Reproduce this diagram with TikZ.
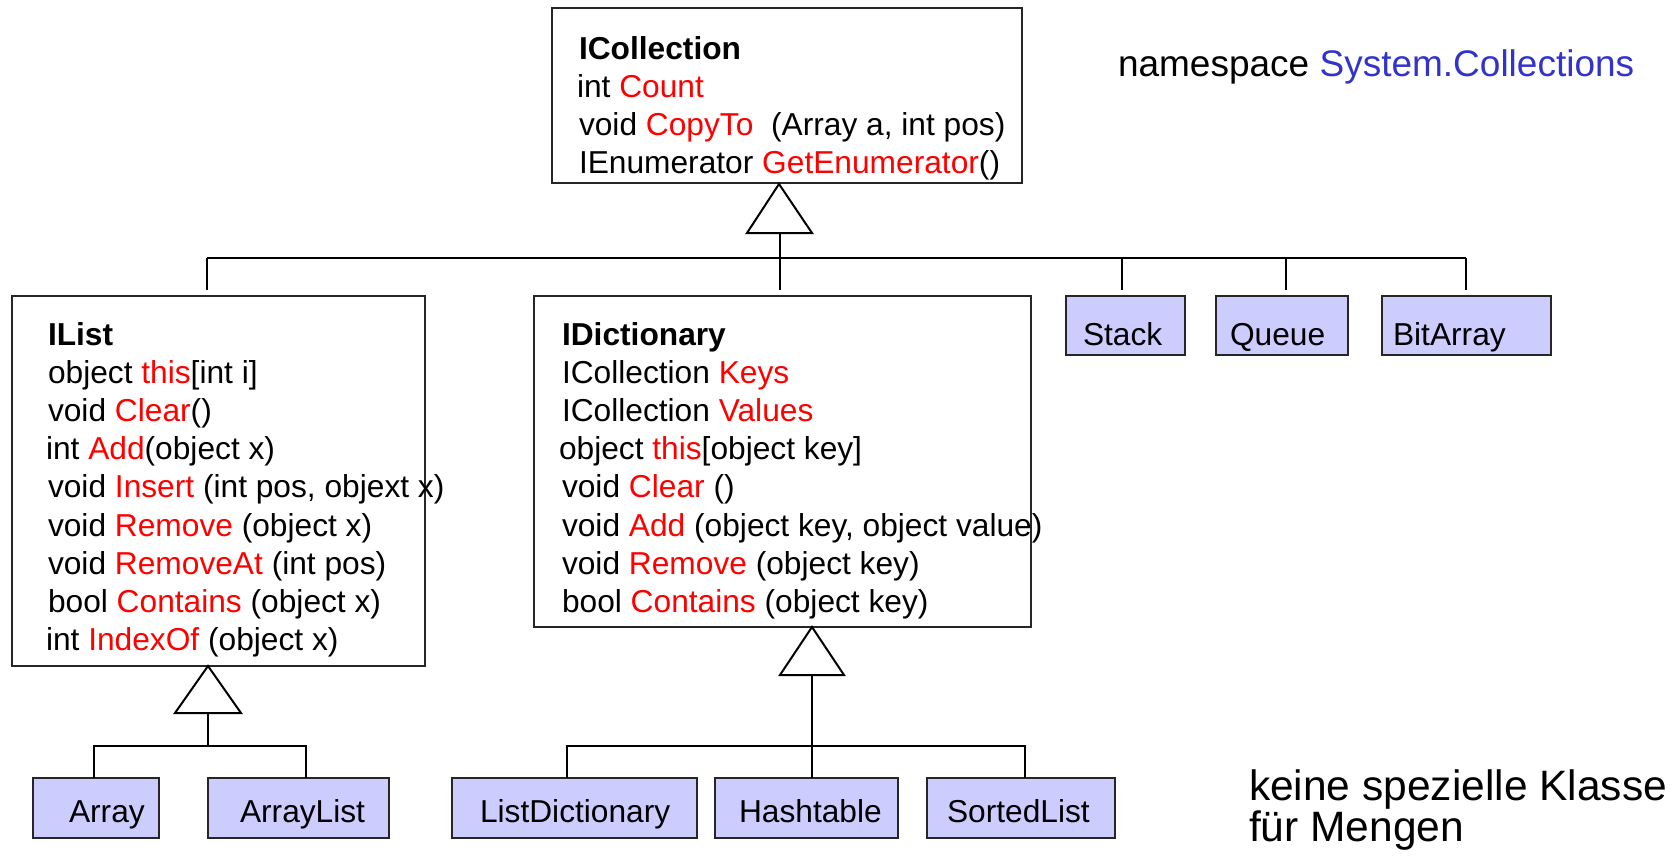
\documentclass[tikz,border=0pt]{standalone}
\usepackage{fontspec}
\setmainfont{Liberation Sans}
\definecolor{boxfill}{RGB}{204,204,255}
\definecolor{nsblue}{RGB}{51,51,204}
\definecolor{mred}{RGB}{255,0,0}
\newcommand{\redtxt}[1]{\textcolor{mred}{#1}}
\begin{document}
\begin{tikzpicture}[x=1pt,y=-1pt,
  bigbox/.style={draw=black!85, line width=1.3pt, fill=white, anchor=north west, inner sep=0pt, outer sep=0pt},
  smallbox/.style={draw=black!85, line width=1.3pt, fill=boxfill, anchor=north west, inner sep=0pt, outer sep=0pt, minimum height=60pt},
  txt/.style={anchor=base west, inner sep=0pt, outer sep=0pt, font=\fontsize{31.7}{38}\selectfont},
  title/.style={txt, font=\fontsize{31.7}{38}\selectfont\bfseries},
  conn/.style={line width=2pt},
  drop/.style={conn, shorten >=6pt},
  inh/.style={line width=2pt, fill=white, line join=miter}]
\fill[white] (0,0) rectangle (1677,857);
\useasboundingbox (0,0) rectangle (1677,857);

% big boxes
\node[bigbox, minimum width=470pt, minimum height=175pt] (icoll) at (552,8) {};
\node[bigbox, minimum width=413pt, minimum height=370pt] (ilist) at (12,296) {};
\node[bigbox, minimum width=497pt, minimum height=331pt] (idict) at (534,296) {};

% small class boxes
\node[smallbox, minimum width=119pt, minimum height=59pt] (stack) at (1066,296) {};
\node[smallbox, minimum width=132pt, minimum height=59pt] (queue) at (1216,296) {};
\node[smallbox, minimum width=169pt, minimum height=59pt] (bitarray) at (1382,296) {};
\node[smallbox, minimum width=126pt] (array) at (33,778) {};
\node[smallbox, minimum width=181pt] (arraylist) at (208,778) {};
\node[smallbox, minimum width=245pt] (listdict) at (452,778) {};
\node[smallbox, minimum width=183pt] (hashtable) at (715,778) {};
\node[smallbox, minimum width=188pt] (sortedlist) at (927,778) {};

% top inheritance
\coordinate (tipA) at (779,184);
\coordinate (baseA) at (780,233);
\coordinate (busL) at (207,258);
\coordinate (busR) at (1466,258);
\coordinate (jStack) at (1122,258);
\coordinate (jQueue) at (1286,258);
\draw[conn] (busL) -- (busR);
\draw[drop] (baseA) -- (baseA |- idict.north);
\draw[drop] (busL) -- (busL |- ilist.north);
\draw[drop] (jStack) -- (jStack |- stack.north);
\draw[drop] (jQueue) -- (jQueue |- queue.north);
\draw[drop] (busR) -- (busR |- bitarray.north);
\draw[inh] (tipA) -- ++(33,49) -- ++(-65,0) -- cycle;

% IList inheritance
\coordinate (tipB) at (208,666);
\coordinate (baseB) at (208,713);
\coordinate (bBl) at (94,746);
\coordinate (bBr) at (306,746);
\draw[conn] (baseB) -- (baseB |- bBl);
\draw[conn] (bBl |- array.north) -- (bBl) -- (bBr) -- (bBr |- arraylist.north);
\draw[inh] (tipB) -- ++(33,47) -- ++(-66,0) -- cycle;

% IDictionary inheritance
\coordinate (tipC) at (812,627);
\coordinate (baseC) at (812,675);
\coordinate (cL) at (567,746);
\coordinate (cR) at (1025,746);
\draw[conn] (baseC) -- (baseC |- hashtable.north);
\draw[conn] (cL |- listdict.north) -- (cL) -- (cR) -- (cR |- sortedlist.north);
\draw[inh] (tipC) -- ++(32,48) -- ++(-64,0) -- cycle;

% ICollection text
\node[title] (tIC0) at (579,59) {ICollection};
\node[txt] (tIC1) at (577,97) {int \redtxt{Count}};
\node[txt] (tIC2) at (579,135) {void \redtxt{CopyTo}\ \ (Array a, int pos)};
\node[txt] (tIC3) at (579,173) {IEnumerator \redtxt{GetEnumerator}()};

% IList text
\node[title] (tIL0) at (48,345) {IList};
\node[txt] (tIL1) at (48,383) {object \redtxt{this}[int i]};
\node[txt] (tIL2) at (48,421) {void \redtxt{Clear}()};
\node[txt] (tIL3) at (46,459) {int \redtxt{Add}(object x)};
\node[txt] (tIL4) at (48,497) {void \redtxt{Insert} (int pos, objext x)};
\node[txt] (tIL5) at (48,536) {void \redtxt{Remove} (object x)};
\node[txt] (tIL6) at (48,574) {void \redtxt{RemoveAt} (int pos)};
\node[txt] (tIL7) at (48,612) {bool \redtxt{Contains} (object x)};
\node[txt] (tIL8) at (46,650) {int \redtxt{IndexOf} (object x)};

% IDictionary text
\node[title] (tID0) at (562,345) {IDictionary};
\node[txt] (tID1) at (562,383) {ICollection \redtxt{Keys}};
\node[txt] (tID2) at (562,421) {ICollection \redtxt{Values}};
\node[txt] (tID3) at (559,459) {object \redtxt{this}[object key]};
\node[txt] (tID4) at (562,497) {void \redtxt{Clear} ()};
\node[txt] (tID5) at (562,536) {void \redtxt{Add} (object key, object value)};
\node[txt] (tID6) at (562,574) {void \redtxt{Remove} (object key)};
\node[txt] (tID7) at (562,612) {bool \redtxt{Contains} (object key)};

% class labels
\node[txt] (lStack) at (1083,345) {Stack};
\node[txt] (lQueue) at (1230,345) {Queue};
\node[txt] (lBit) at (1393,345) {BitArray};
\node[txt] (lArray) at (69,822) {Array};
\node[txt] (lArrayList) at (240,822) {ArrayList};
\node[txt] (lListDict) at (480,822) {ListDictionary};
\node[txt] (lHash) at (739,822) {Hashtable};
\node[txt] (lSorted) at (947,822) {SortedList};

% notes
\node[txt, font=\fontsize{37}{44}\selectfont] (ns) at (1118,76) {namespace \textcolor{nsblue}{System.Collections}};
\node[txt, font=\fontsize{42.5}{42}\selectfont] (note1) at (1249,800) {keine spezielle Klasse};
\node[txt, font=\fontsize{42.5}{42}\selectfont] (note2) at (1249,841) {für Mengen};
\end{tikzpicture}
\end{document}
